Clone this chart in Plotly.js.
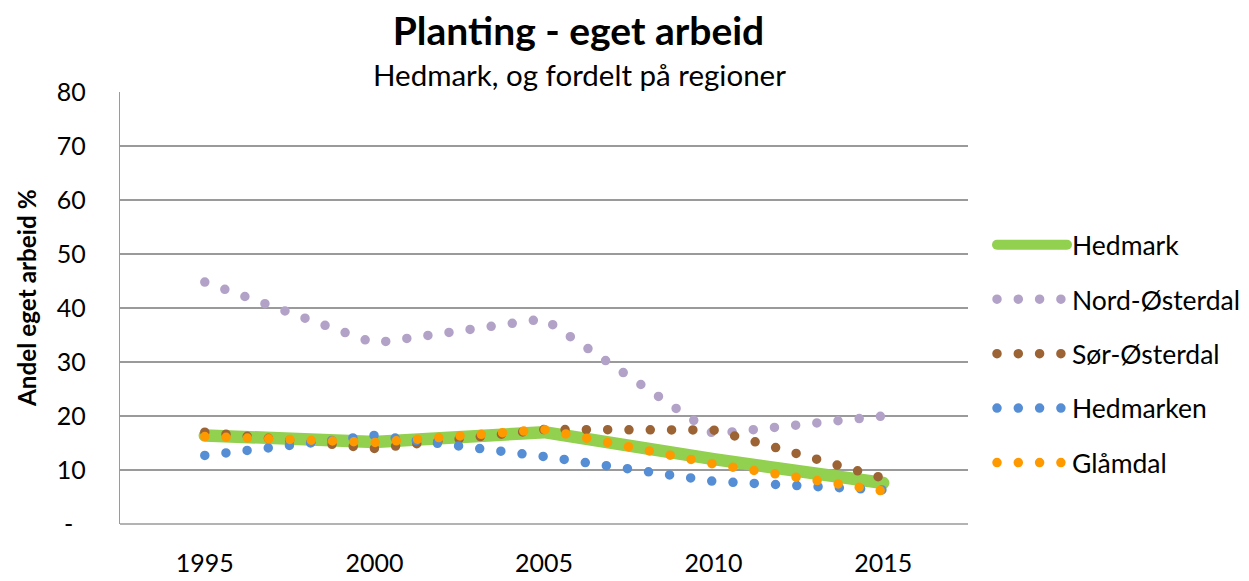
<!DOCTYPE html>
<html><head><meta charset="utf-8">
<script src="https://cdn.plot.ly/plotly-3.0.1.min.js"></script>
<style>
body{margin:0;background:#fff}
#chart .js-line{stroke-linecap:round !important;stroke-linejoin:round !important;}
</style></head><body><div id="chart"></div>
<script>
const years = [1995, 2000, 2005, 2010, 2015];
const hedmark = [16.4, 15.2, 17.0, 12.0, 7.6];
const nordOsterdal = [44.8, 33.5, 38.0, 16.7, 20.0];
const sorOsterdal = [17.0, 14.0, 17.5, 17.4, 8.5];
const hedmarken = [12.7, 16.4, 12.5, 7.9, 6.3];
const glamdal = [16.2, 15.1, 17.5, 11.1, 6.1];
const seriesNames = ['Hedmark', 'Nord-Østerdal', 'Sør-Østerdal', 'Hedmarken', 'Glåmdal'];
const yTickVals = [0, 10, 20, 30, 40, 50, 60, 70, 80];
const yTickText = ['-\u2002', '10', '20', '30', '40', '50', '60', '70', '80'];
const xTickVals = [1995, 2000, 2005, 2010, 2015];
const xTickText = ['1995', '2000', '2005', '2010', '2015'];

const FONT = 'Lato, "Open Sans", sans-serif';
const DOT = '0px,21.3px';
const seriesValues = [hedmark, nordOsterdal, sorOsterdal, hedmarken, glamdal];
const colors = ['#92D050', '#B3A2C7', '#9C6434', '#558ED5', '#FF9900'];

const traces = seriesValues.map((vals, i) => ({
  x: years, y: vals, name: seriesNames[i], type: 'scatter', mode: 'lines',
  legendgroup: 'g' + i,
  line: i === 0 ? {color: colors[i], width: 12.5} : {color: colors[i], width: 9.5, dash: DOT},
  hoverinfo: 'x+y+name'
}));

const layout = {
  width: 1249, height: 581,
  margin: {l: 120, r: 281, t: 92, b: 57, autoexpand: false},
  paper_bgcolor: '#fff', plot_bgcolor: '#fff',
  font: {family: FONT, color: '#000'},
  title: {text: '<b>Planting - eget arbeid</b>', font: {family: FONT, size: 39, color: '#000'},
          x: 578.5 / 1249, xanchor: 'center', xref: 'container', y: 1 - 31 / 581, yanchor: 'middle', yref: 'container'},
  annotations: [
    {text: 'Hedmark, og fordelt på regioner', xref: 'paper', yref: 'paper',
     x: (579 - 120) / 848, y: (524 - 74.5) / 432, xanchor: 'center', yanchor: 'middle',
     showarrow: false, font: {family: FONT, size: 29.5, color: '#000'}},
    {text: '<b>Andel eget arbeid %</b>', xref: 'paper', yref: 'paper',
     x: (26 - 120) / 848, y: (524 - 298) / 432, xanchor: 'center', yanchor: 'middle', textangle: -90,
     showarrow: false, font: {family: FONT, size: 24.3, color: '#000'}}
  ],
  xaxis: {
    range: [1992.5, 2017.5], tickvals: xTickVals, ticktext: xTickText,
    showgrid: false, zeroline: false, showline: false,
    ticks: 'outside', ticklen: 17, tickcolor: 'rgba(0,0,0,0)',
    tickfont: {family: FONT, size: 25, color: '#000'}
  },
  yaxis: {
    range: [0, 80], tickvals: yTickVals, ticktext: yTickText,
    showgrid: true, gridcolor: '#9a9a9a', gridwidth: 1.3,
    zeroline: false, showline: true, linecolor: '#9a9a9a', linewidth: 1.3,
    ticks: 'outside', ticklen: 28, tickcolor: 'rgba(0,0,0,0)',
    tickfont: {family: FONT, size: 25, color: '#000'}
  },
  shapes: [{type: 'line', xref: 'paper', yref: 'paper', x0: 0, x1: 1, y0: 0, y1: 0,
            line: {color: '#9a9a9a', width: 1.3}}],
  showlegend: true,
  legend: {
    x: (992 - 120) / 848, xanchor: 'left', y: (524 - 221) / 432, yanchor: 'top',
    traceorder: 'grouped', tracegroupgap: 17, itemwidth: 70,
    font: {family: FONT, size: 26.5, color: '#000'}, bgcolor: 'rgba(0,0,0,0)'
  }
};

Plotly.newPlot('chart', traces, layout, {displayModeBar: false, staticPlot: true});
</script></body></html>
